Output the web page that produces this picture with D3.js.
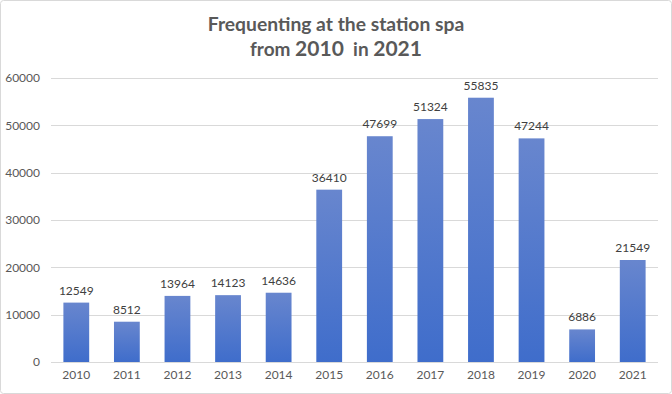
<!DOCTYPE html>
<html><head><meta charset="utf-8">
<script src="https://cdn.jsdelivr.net/npm/d3@7"></script>
<style>body{margin:0;background:#fff}svg{display:block}</style>
</head><body>
<svg id="c" width="672" height="394"></svg>
<script>
const categories = ["2010","2011","2012","2013","2014","2015","2016","2017","2018","2019","2020","2021"];
const values = [12549,8512,13964,14123,14636,36410,47699,51324,55835,47244,6886,21549];
const yTicks = [0,10000,20000,30000,40000,50000,60000];

const svg = d3.select("#c");
const W = 672, H = 394;
const font = "Lato, 'Open Sans', sans-serif";
svg.append("rect").attr("x",0.5).attr("y",0.5).attr("width",W-1).attr("height",H-1)
  .attr("rx",3).attr("fill","#fff").attr("stroke","#d9d9d9");

const defs = svg.append("defs");
const g0 = defs.append("linearGradient").attr("id","bg").attr("x1",0).attr("y1",0).attr("x2",0).attr("y2",1);
g0.append("stop").attr("offset","0%").attr("stop-color","#6886CE");
g0.append("stop").attr("offset","100%").attr("stop-color","#3F6DCB");

const x = d3.scaleBand().domain(categories).range([51,658]).paddingInner(0.49).paddingOuter(0.245);
const y = d3.scaleLinear().domain([0,60000]).range([362,78]);

// grid
svg.append("g").selectAll("line").data(yTicks).join("line")
  .attr("x1",51).attr("x2",658).attr("y1",d=>Math.round(y(d))+0.5).attr("y2",d=>Math.round(y(d))+0.5)
  .attr("stroke","#d9d9d9").attr("stroke-width",1);

// y axis labels
const ya = svg.append("g").attr("transform","translate(40,0)")
  .call(d3.axisLeft(y).tickValues(yTicks).tickSize(0).tickPadding(0).tickFormat(d3.format("d")));
ya.select(".domain").remove();
ya.selectAll("text").attr("font-family",font).attr("font-size",12).attr("fill","#595959");

// x axis labels
const xa = svg.append("g").attr("transform","translate(0,370)")
  .call(d3.axisBottom(x).tickSize(0).tickPadding(0));
xa.select(".domain").remove();
xa.selectAll("text").attr("font-family",font).attr("font-size",12).attr("fill","#595959").attr("dy","0.71em");

// bars
svg.append("g").selectAll("rect").data(values).join("rect")
  .attr("x",(d,i)=>x(categories[i])).attr("width",x.bandwidth())
  .attr("y",d=>y(d)).attr("height",d=>y(0)-y(d)).attr("fill","url(#bg)");

// data labels
svg.append("g").selectAll("text").data(values).join("text")
  .attr("x",(d,i)=>x(categories[i])+x.bandwidth()/2).attr("y",d=>y(d)-8)
  .attr("text-anchor","middle").attr("font-family",font).attr("font-size",12).attr("fill","#404040")
  .text(d=>d);

// title
const t = svg.append("text").attr("text-anchor","middle").attr("font-family",font)
  .attr("font-weight","bold").attr("fill","#595959").style("white-space","pre");
t.append("tspan").attr("x",336).attr("y",31).attr("font-size",19.3).text("Frequenting at the station spa");
const l2 = t.append("tspan").attr("x",336).attr("y",56).attr("font-size",19);
l2.append("tspan").text("from ");
l2.append("tspan").attr("font-size",21).text("2010");
l2.append("tspan").text("  in ");
l2.append("tspan").attr("font-size",21).text("2021");
</script>
</body></html>
